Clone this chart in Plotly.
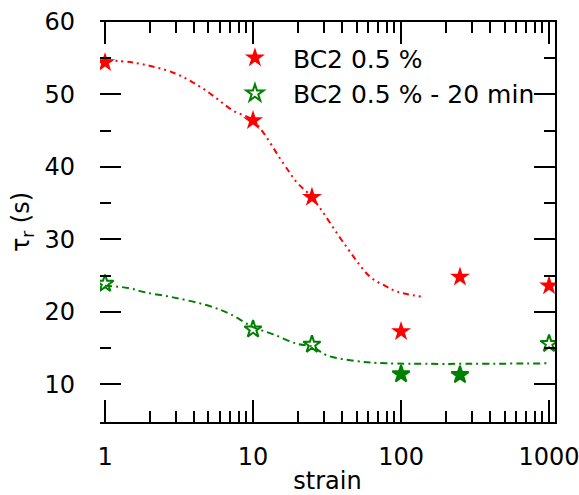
import plotly.graph_objects as go

# ---- data ----
strain = [1, 10, 25, 100, 250, 1000]
tau_bc2 = [54.4, 46.4, 35.8, 17.3, 24.8, 23.6]
tau_bc2_20min = [23.9, 17.6, 15.5, 11.4, 11.3, 15.6]

red_fit_x = [1.0, 1.55, 2.9, 4.6, 7.3, 10, 16, 19.7, 25, 43, 62, 78, 94, 138]
red_fit_y = [54.7, 54.4, 53.0, 50.8, 47.8, 46.4, 40.5, 37.9, 35.8, 28.9, 24.8, 23.6, 22.8, 22.1]

green_fit_x = [1.0, 1.43, 1.86, 2.88, 4.9, 7.0, 10, 13.7, 19.7, 25, 31.5, 50, 80, 1000]
green_fit_y = [23.6, 23.3, 22.7, 22.0, 20.9, 19.7, 17.9, 16.9, 15.6, 15.2, 14.0, 13.2, 12.9, 12.9]

x_tickvals = [1, 10, 100, 1000]
x_ticktext = ["1", "10", "100", "1000"]
y_tickvals = [10, 20, 30, 40, 50, 60]
y_minor = [15, 25, 35, 45, 55]

legend_names = ["BC2 0.5 %", "BC2 0.5 % - 20 min"]

RED = "#ff0000"
GREEN = "#008000"
FONT = "DejaVu Sans, Liberation Sans, sans-serif"
FS = 24

x_minor = [m * d for d in (1, 10, 100) for m in range(2, 10)]

fig = go.Figure()
fig.add_trace(go.Scatter(x=red_fit_x, y=red_fit_y, mode="lines", showlegend=False,
                         line=dict(color=RED, width=2, dash="6px,4px,2px,4px,2px,4px", shape="spline")))
fig.add_trace(go.Scatter(x=green_fit_x, y=green_fit_y, mode="lines", showlegend=False,
                         line=dict(color=GREEN, width=2, dash="7px,4px,2px,4px", shape="spline")))
fig.add_trace(go.Scatter(x=strain, y=tau_bc2, mode="markers", name=legend_names[0],
                         marker=dict(symbol="star", size=15, color=RED, line=dict(width=0))))
fig.add_trace(go.Scatter(x=strain, y=tau_bc2_20min, mode="markers", name=legend_names[1],
                         marker=dict(symbol=["star-open", "star-open", "star-open", "star", "star", "star-open"],
                                     size=13, color=GREEN, line=dict(width=2, color=GREEN))))
# invisible trace to carry the right-hand axis
fig.add_trace(go.Scatter(x=[1], y=[10], yaxis="y2", mode="markers", showlegend=False,
                         marker=dict(opacity=0), hoverinfo="skip"))

x0, x1 = -0.034, 3.04
y0, y1 = 4.8, 60

fig.update_layout(
    width=579, height=495,
    margin=dict(l=100, r=24, t=22, b=73, autoexpand=False),
    paper_bgcolor="white", plot_bgcolor="white",
    font=dict(family=FONT, size=FS, color="black"),
    xaxis=dict(type="log", range=[x0, x1], showgrid=False, zeroline=False, automargin=False,
               showline=True, linecolor="black", linewidth=2, mirror="ticks",
               ticks="inside", ticklen=22, tickwidth=2, tickcolor="black",
               tickvals=x_tickvals, ticktext=x_ticktext, ticklabelstandoff=12,
               ticklabeloverflow="allow",
               minor=dict(tickvals=x_minor, ticks="inside", ticklen=11, tickwidth=2,
                          tickcolor="black", showgrid=False),
               title=dict(text="strain", standoff=7, font=dict(size=FS))),
    yaxis=dict(range=[y0, y1], showgrid=False, zeroline=False, showline=False, automargin=False,
               ticks="inside", ticklen=21, tickwidth=2, tickcolor="black",
               tickvals=y_tickvals, ticklabelstandoff=24, ticklabeloverflow="allow",
               minor=dict(tickvals=y_minor, ticks="inside", ticklen=11, tickwidth=2,
                          tickcolor="black", showgrid=False),
               title=dict(text="τ<sub>r</sub> (s)", standoff=8, font=dict(size=FS))),
    yaxis2=dict(range=[y0, y1], overlaying="y", side="right", showgrid=False, zeroline=False,
                showline=True, linecolor="black", linewidth=2, automargin=False,
                ticks="inside", ticklen=21, tickwidth=2, tickcolor="black",
                tickvals=y_tickvals, showticklabels=False,
                minor=dict(tickvals=y_minor, ticks="inside", ticklen=11, tickwidth=2,
                           tickcolor="black", showgrid=False)),
    legend=dict(x=0.257, y=0.9675, xanchor="left", yanchor="top", bgcolor="rgba(0,0,0,0)",
                itemwidth=66, font=dict(size=25), borderwidth=0),
    showlegend=True,
)

fig.write_html("out.html", config={"displayModeBar": False},
               post_script="document.body.style.margin='0';document.body.style.padding='0';")
